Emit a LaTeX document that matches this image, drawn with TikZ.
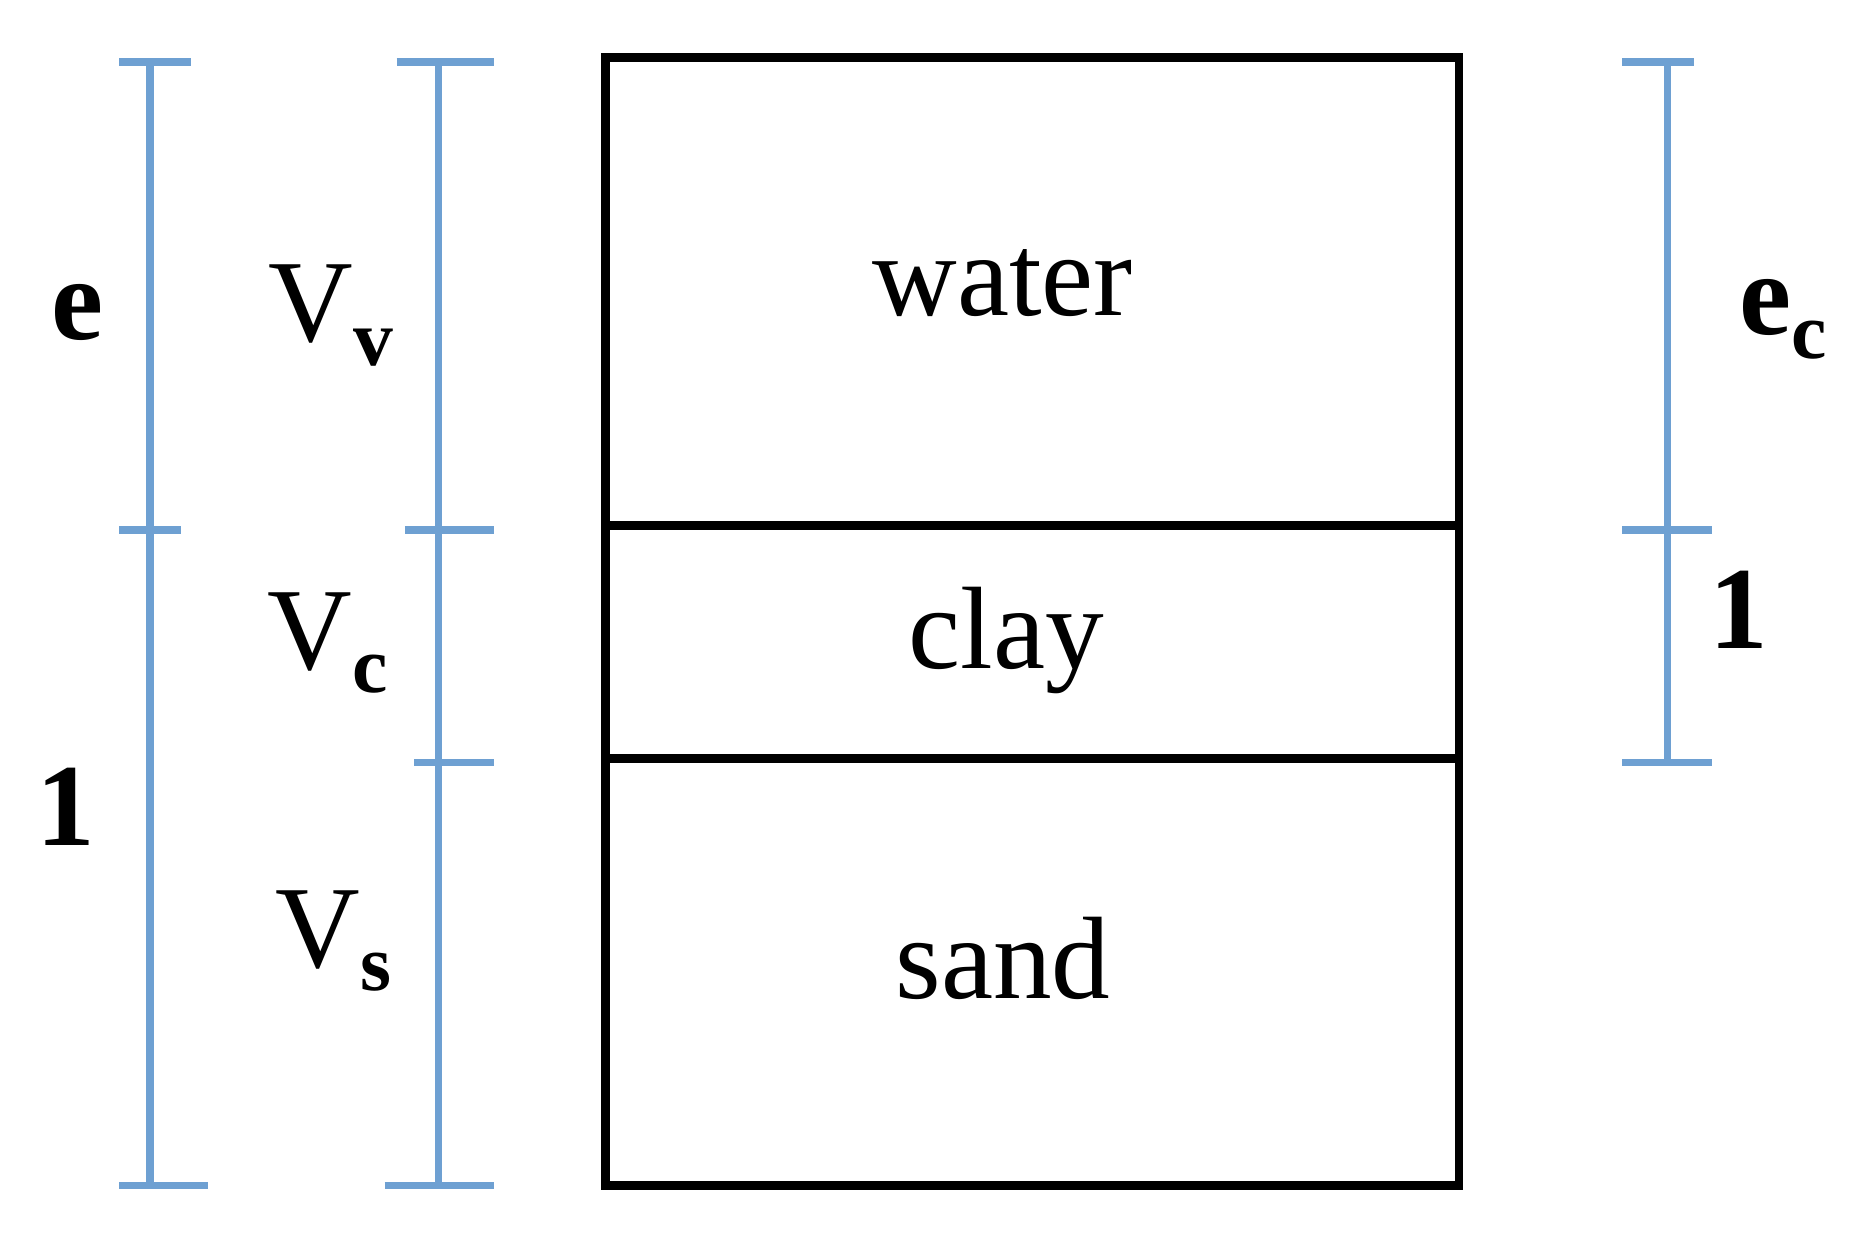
\documentclass[tikz,border=0pt]{standalone}
\usepackage{fontspec}
\setmainfont{Liberation Serif}
\begin{document}
\begin{tikzpicture}[x=0.1mm,y=-0.1mm,
  bar/.style={color={rgb,255:red,110;green,160;blue,210}, line width=0.6mm},
  boxl/.style={draw=black, line width=0.75mm},
  lbl/.style={font=\fontsize{28}{34}\selectfont, inner sep=0pt}]
\useasboundingbox (0,0) rectangle (1560,1037);
% box
\draw[boxl] (508,48) rectangle (1225,995);
\draw[boxl] (508,441) -- (1225,441);
\draw[boxl] (508,637) -- (1225,637);
\node[lbl] (w) at (842,238) {water};
\node[lbl] (c) at (845,538) {clay};
\node[lbl] (s) at (842,805) {sand};
% left bar
\draw[bar] (126,52) -- (126,995);
\draw[bar] (100,52) -- (160,52);
\draw[bar] (100,445) -- (152,445);
\draw[bar] (100,995) -- (175,995);
\node[lbl,font=\fontsize{28}{34}\selectfont\bfseries] (e) at (65,262) {e};
\node[lbl,font=\fontsize{28}{34}\selectfont\bfseries] (one) at (55,677) {1};
% second bar
\draw[bar] (368,52) -- (368,995);
\draw[bar] (333,52) -- (415,52);
\draw[bar] (340,445) -- (415,445);
\draw[bar] (348,640) -- (415,640);
\draw[bar] (323,995) -- (415,995);
\node[lbl] (vv) at (278,265) {V\raisebox{-0.2em}{\fontsize{19}{22}\selectfont\bfseries v}};
\node[lbl] (vc) at (275,540) {V\raisebox{-0.2em}{\fontsize{19}{22}\selectfont\bfseries c}};
\node[lbl] (vs) at (280,790) {V\raisebox{-0.2em}{\fontsize{19}{22}\selectfont\bfseries s}};
% right bar
\draw[bar] (1400,52) -- (1400,640);
\draw[bar] (1362,52) -- (1422,52);
\draw[bar] (1362,445) -- (1437,445);
\draw[bar] (1362,640) -- (1437,640);
\node[lbl] (ec) at (1497,268) {\textbf{e}\raisebox{-0.2em}{\fontsize{19}{22}\selectfont\bfseries c}};
\node[lbl,font=\fontsize{28}{34}\selectfont\bfseries] (oner) at (1460,512) {1};
\end{tikzpicture}
\end{document}
